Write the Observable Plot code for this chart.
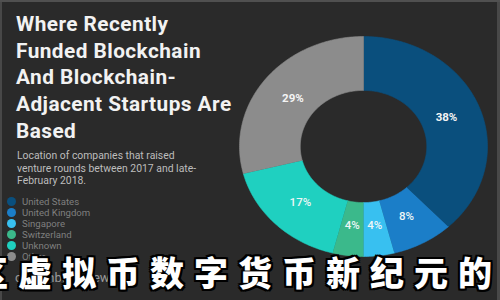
<!DOCTYPE html>
<html><head><meta charset="utf-8">
<script src="https://cdn.jsdelivr.net/npm/d3@7"></script>
<script src="https://cdn.jsdelivr.net/npm/@observablehq/plot@0.6"></script>
<style>
html,body{margin:0;padding:0;background:#2a2a2a;}
#wrap{position:relative;width:500px;height:300px;overflow:hidden;background:#2a2a2a;box-shadow: inset 0 2px 0 #505050, inset 2px 0 0 #484848, inset -3px 0 0 #484848;}
#chart{position:absolute;left:0;top:0;}
#title{position:absolute;left:16px;top:11px;font:700 20.8px/26.7px Roboto, sans-serif;letter-spacing:0.45px;color:#f2f2f2;white-space:nowrap;}
#subtitle{position:absolute;left:17px;top:150px;font:400 10.4px/12.5px Roboto, sans-serif;color:#bdbdbd;white-space:nowrap;}
#legend{position:absolute;left:7px;top:196px;font:400 9.6px/11px Roboto, sans-serif;color:#7f7f7f;}
#legend .row{display:flex;align-items:center;height:11px;white-space:nowrap;}
#legend .dot{width:9px;height:9px;border-radius:50%;margin-right:6px;}
#source{position:absolute;left:15px;top:270px;font:400 13px Roboto, sans-serif;color:#9a9a9a;}
#overlay{position:absolute;left:-26px;top:255px;font:900 34px/34px "Noto Sans CJK SC", sans-serif;letter-spacing:10px;color:#fff;white-space:nowrap;
text-shadow:2px 0 0 #000,-2px 0 0 #000,0 2px 0 #000,0 -2px 0 #000,2px 2px 0 #000,-2px -2px 0 #000,2px -2px 0 #000,-2px 2px 0 #000;}
</style></head>
<body>
<div id="wrap">
  <div id="chart"></div>
  <div id="title">Where Recently<br>Funded Blockchain<br>And Blockchain-<br>Adjacent Startups Are<br>Based</div>
  <div id="subtitle">Location of companies that raised<br>venture rounds between 2017 and late-<br>February 2018.</div>
  <div id="legend"></div>
  <div id="source">crunchbase news</div>
  <div id="overlay">区虚拟币数字货币新纪元的未来</div>
</div>
<script>
const countries = ["United States", "United Kingdom", "Singapore", "Switzerland", "Unknown", "Other"];
const shares = [38, 8, 4, 4, 17, 29];
const colors = ["#0a4f7d", "#1b7ec8", "#38c0f0", "#3bb98b", "#1fd0c0", "#8c8c8c"];
const labels = ["38%", "8%", "4%", "4%", "17%", "29%"];

const innerR = 0.51, labelR = 0.72;
const total = d3.sum(shares);
let acc = 0;
const slices = shares.map((v, i) => {
  const a0 = acc / total * 2 * Math.PI;
  acc += v;
  const a1 = acc / total * 2 * Math.PI;
  return {name: countries[i], a0, a1, label: labels[i], bold: i === 0 || i === 5};
});
const poly = [];
for (const s of slices) {
  const n = Math.max(2, Math.ceil((s.a1 - s.a0) / (Math.PI / 180)));
  for (let k = 0; k <= n; k++) {
    const a = s.a0 + (s.a1 - s.a0) * k / n;
    poly.push({name: s.name, x: Math.sin(a), y: Math.cos(a)});
  }
  for (let k = n; k >= 0; k--) {
    const a = s.a0 + (s.a1 - s.a0) * k / n;
    poly.push({name: s.name, x: innerR * Math.sin(a), y: innerR * Math.cos(a)});
  }
}
const lab = slices.map(s => {
  const m = (s.a0 + s.a1) / 2;
  return {...s, x: labelR * Math.sin(m), y: labelR * Math.cos(m)};
});

const chart = Plot.plot({
  width: 500, height: 300,
  margin: 0,
  style: {background: "transparent"},
  x: {domain: [-1, 1], range: [239, 487], axis: null},
  y: {domain: [-1, 1], range: [256, 36], axis: null},
  color: {domain: countries, range: colors},
  marks: [
    Plot.line(poly, {x: "x", y: "y", z: "name", fill: "name", stroke: "name", strokeWidth: 0.6, curve: "linear"}),
    Plot.text(lab.filter(d => d.bold), {x: "x", y: "y", text: "label", fill: "#f4f4f4", fontSize: 11.5, fontWeight: 700, fontFamily: "Roboto, sans-serif"}),
    Plot.text(lab.filter(d => !d.bold), {x: "x", y: "y", text: "label", fill: "#eef6f6", fontSize: 11.5, fontWeight: 500, fontFamily: "Roboto, sans-serif"})
  ]
});
document.getElementById("chart").appendChild(chart);

const legend = document.getElementById("legend");
countries.forEach((c, i) => {
  const row = document.createElement("div");
  row.className = "row";
  const dot = document.createElement("span");
  dot.className = "dot";
  dot.style.background = colors[i];
  const t = document.createElement("span");
  t.textContent = c;
  row.appendChild(dot); row.appendChild(t);
  legend.appendChild(row);
});
</script>
</body></html>
